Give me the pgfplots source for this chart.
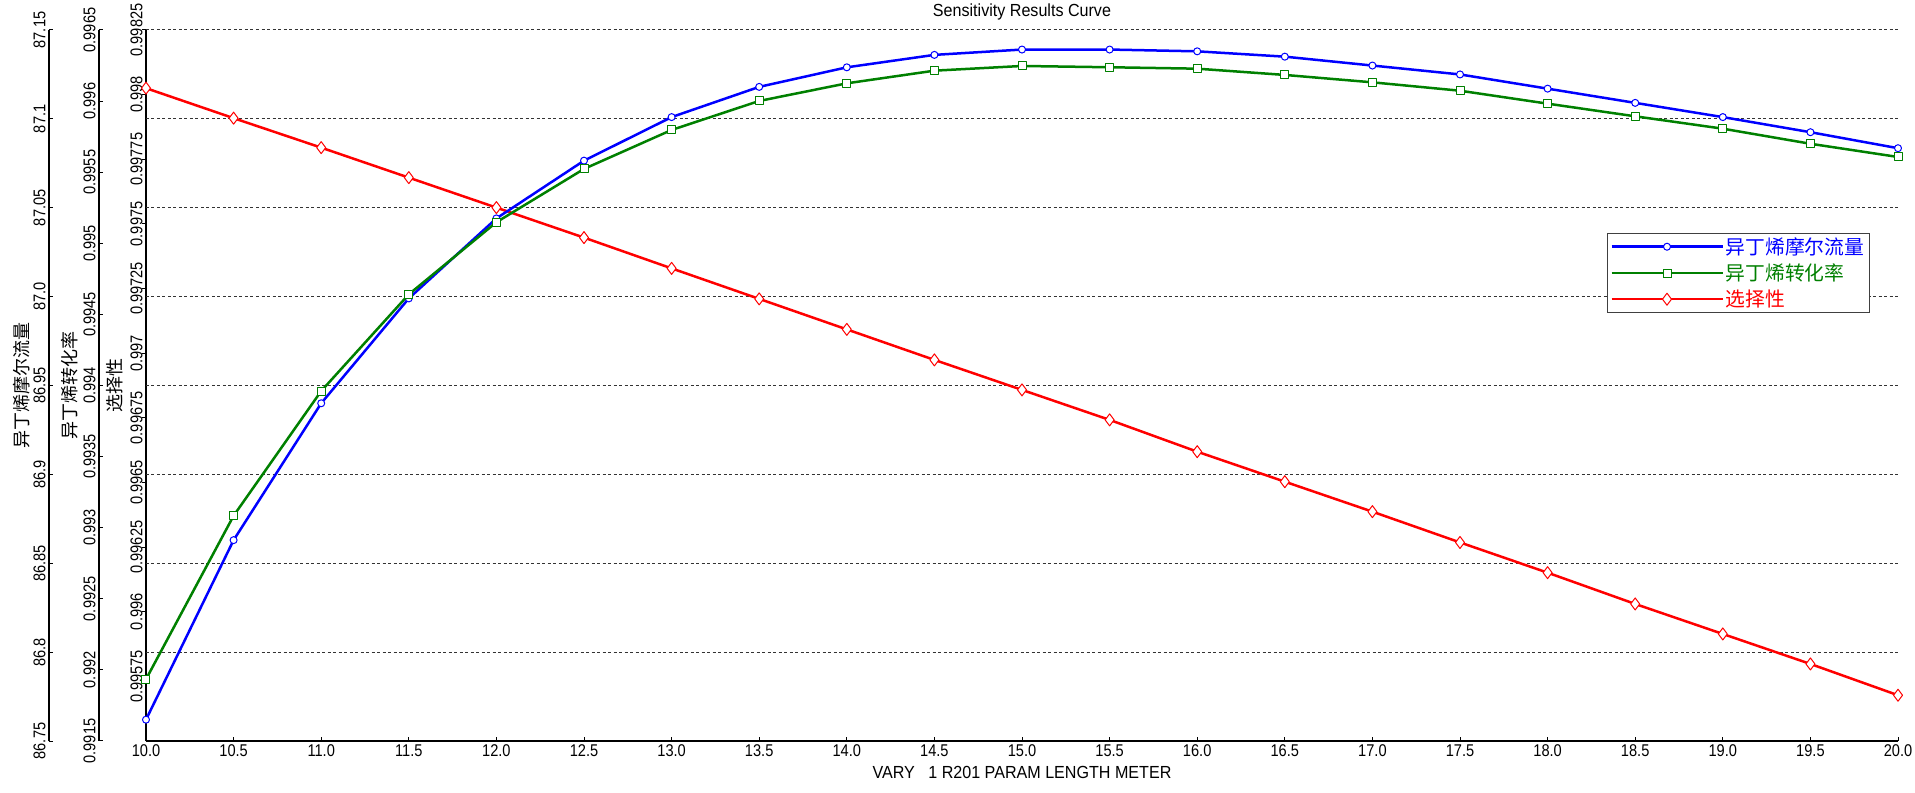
\documentclass[border=0pt]{standalone}
\usepackage{fontspec}
\setmainfont{Liberation Sans}
\newfontfamily\tickf[FakeStretch=0.86]{Liberation Sans}
\newfontfamily\titlef[FakeStretch=0.92]{Liberation Sans}
\newfontfamily\cjk{Noto Sans CJK SC}
\usepackage{pgfplots}
\pgfplotsset{compat=1.18}
\definecolor{mblue}{RGB}{0,0,255}
\definecolor{mgreen}{RGB}{0,128,0}
\definecolor{mred}{RGB}{255,0,0}
\pgfplotsset{
  common/.style={
    scale only axis, height=711bp, xmax=20, clip=false,
    axis line style={line width=1.2bp, black},
    major tick length=4bp,
    tick style={line width=1bp, black},
    tick align=inside,
    ticklabel style={font=\tickf\fontsize{17bp}{20bp}\selectfont, text=black},
    yticklabel style={rotate=90, anchor=south},
    ylabel style={font=\cjk\fontsize{18bp}{20bp}\selectfont},
  },
}
\begin{document}
\begin{tikzpicture}
% main axis: selectivity (red), x axis, grid, legend
\begin{axis}[common, width=1752bp, at={(0,0)}, anchor=south west,
  xmin=10, ymin=0.9955, ymax=0.99825,
  axis x line*=bottom, axis y line*=left,
  xtick={10,10.5,11,11.5,12,12.5,13,13.5,14,14.5,15,15.5,16,16.5,17,17.5,18,18.5,19,19.5,20},
  xticklabels={10.0,10.5,11.0,11.5,12.0,12.5,13.0,13.5,14.0,14.5,15.0,15.5,16.0,16.5,17.0,17.5,18.0,18.5,19.0,19.5,20.0},
  ytick={0.99575,0.996,0.99625,0.9965,0.99675,0.997,0.99725,0.9975,0.99775,0.998,0.99825},
  yticklabels={0.99575,0.996,0.99625,0.9965,0.99675,0.997,0.99725,0.9975,0.99775,0.998,0.99825},
  ytick style={xshift=-4bp},
  extra y ticks={0.99825,0.99790625,0.9975625,0.99721875,0.996875,0.99653125,0.9961875,0.99584375},
  extra y tick labels={},
  extra y tick style={grid=major, major tick length=0pt,
    major grid style={black!80, line width=1bp, dash pattern=on 3bp off 2.5bp}},
  ylabel={选择性},
  ylabel style={at={([xshift=-31bp]axis description cs:0,0.5)}, anchor=center},
  xlabel={VARY\ \ \ 1 R201 PARAM LENGTH METER},
  xlabel style={at={([yshift=-31bp]axis description cs:0.5,0)}, anchor=center,
    font=\titlef\fontsize{17.5bp}{20bp}\selectfont},
  title={Sensitivity Results Curve},
  title style={at={([yshift=7.3bp]axis description cs:0.5,1)}, anchor=base,
    font=\titlef\fontsize{17.5bp}{20bp}\selectfont},
  legend image code/.code={\draw[mark repeat=2,mark phase=2,#1] plot coordinates {(0bp,0bp) (55.5bp,0bp) (111bp,0bp)};},
  legend style={at={(axis description cs:0.984,0.7145)}, anchor=north east,
    draw=black!75, line width=1.2bp, fill=white, inner xsep=3bp, inner ysep=2bp,
    row sep=4bp, nodes={inner sep=2bp},
    font=\cjk\fontsize{19.8bp}{22bp}\selectfont},
  legend cell align=left,
]
\addlegendimage{mblue, line width=2.5bp, mark=*, mark size=3.5bp, mark options={fill=white, line width=1bp}}
\addlegendentry{\textcolor{mblue}{异丁烯摩尔流量}}
\addlegendimage{mgreen, line width=2.5bp, mark=square*, mark size=4bp, mark options={fill=white, line width=1bp}}
\addlegendentry{\textcolor{mgreen}{异丁烯转化率}}
\addplot[mred, line width=2.5bp, line join=round, mark=diamond*, mark size=6bp, mark options={fill=white, line width=1bp}] coordinates {
(10,0.998025) (10.5,0.997909) (11,0.997795) (11.5,0.997679) (12,0.997563) (12.5,0.997447) (13,0.997328) (13.5,0.99721) (14,0.997092) (14.5,0.996974) (15,0.996858) (15.5,0.996742) (16,0.996619) (16.5,0.996503) (17,0.996387) (17.5,0.996268) (18,0.996151) (18.5,0.99603) (19,0.995914) (19.5,0.995798) (20,0.995677)};
\addlegendentry{\textcolor{mred}{选择性}}
\end{axis}
% outer axis: molar flow (blue)
\begin{axis}[common, width=1849bp, at={(-97bp,0)}, anchor=south west,
  xmin=9.44635, ymin=86.75, ymax=87.15,
  axis x line=none, axis y line*=left,
  ytick={86.75,86.8,86.85,86.9,86.95,87,87.05,87.1,87.15},
  yticklabels={86.75,86.8,86.85,86.9,86.95,87.0,87.05,87.1,87.15},
  ylabel={异丁烯摩尔流量},
  ylabel style={at={([xshift=-27bp]axis description cs:0,0.5)}, anchor=center},
]
\addplot[mblue, line width=2.5bp, line join=round, mark=*, mark size=3.5bp, mark options={fill=white, line width=1bp}] coordinates {
(10,86.762) (10.5,86.863) (11,86.940) (11.5,86.999) (12,87.044) (12.5,87.0765) (13,87.101) (13.5,87.118) (14,87.129) (14.5,87.136) (15,87.139) (15.5,87.139) (16,87.138) (16.5,87.135) (17,87.130) (17.5,87.125) (18,87.117) (18.5,87.109) (19,87.101) (19.5,87.0925) (20,87.0835)};
\end{axis}
% middle axis: conversion (green)
\begin{axis}[common, width=1799bp, at={(-47bp,0)}, anchor=south west,
  xmin=9.73174, ymin=0.9915, ymax=0.9965,
  axis x line=none, axis y line*=left,
  ytick={0.9915,0.992,0.9925,0.993,0.9935,0.994,0.9945,0.995,0.9955,0.996,0.9965},
  yticklabels={0.9915,0.992,0.9925,0.993,0.9935,0.994,0.9945,0.995,0.9955,0.996,0.9965},
  ylabel={异丁烯转化率},
  ylabel style={at={([xshift=-29bp]axis description cs:0,0.5)}, anchor=center},
]
\addplot[mgreen, line width=2.5bp, line join=round, mark=square*, mark size=4bp, mark options={fill=white, line width=1bp}] coordinates {
(10,0.991934) (10.5,0.993084) (11,0.993961) (11.5,0.994641) (12,0.995148) (12.5,0.995523) (13,0.995797) (13.5,0.996001) (14,0.996125) (14.5,0.996214) (15,0.996247) (15.5,0.996238) (16,0.996228) (16.5,0.996184) (17,0.996132) (17.5,0.996073) (18,0.995982) (18.5,0.995893) (19,0.995806) (19.5,0.9957) (20,0.995607)};
\end{axis}
\pgfresetboundingbox
\path[use as bounding box] (-146bp,-52bp) rectangle (1769bp,741bp);
\end{tikzpicture}
\end{document}
